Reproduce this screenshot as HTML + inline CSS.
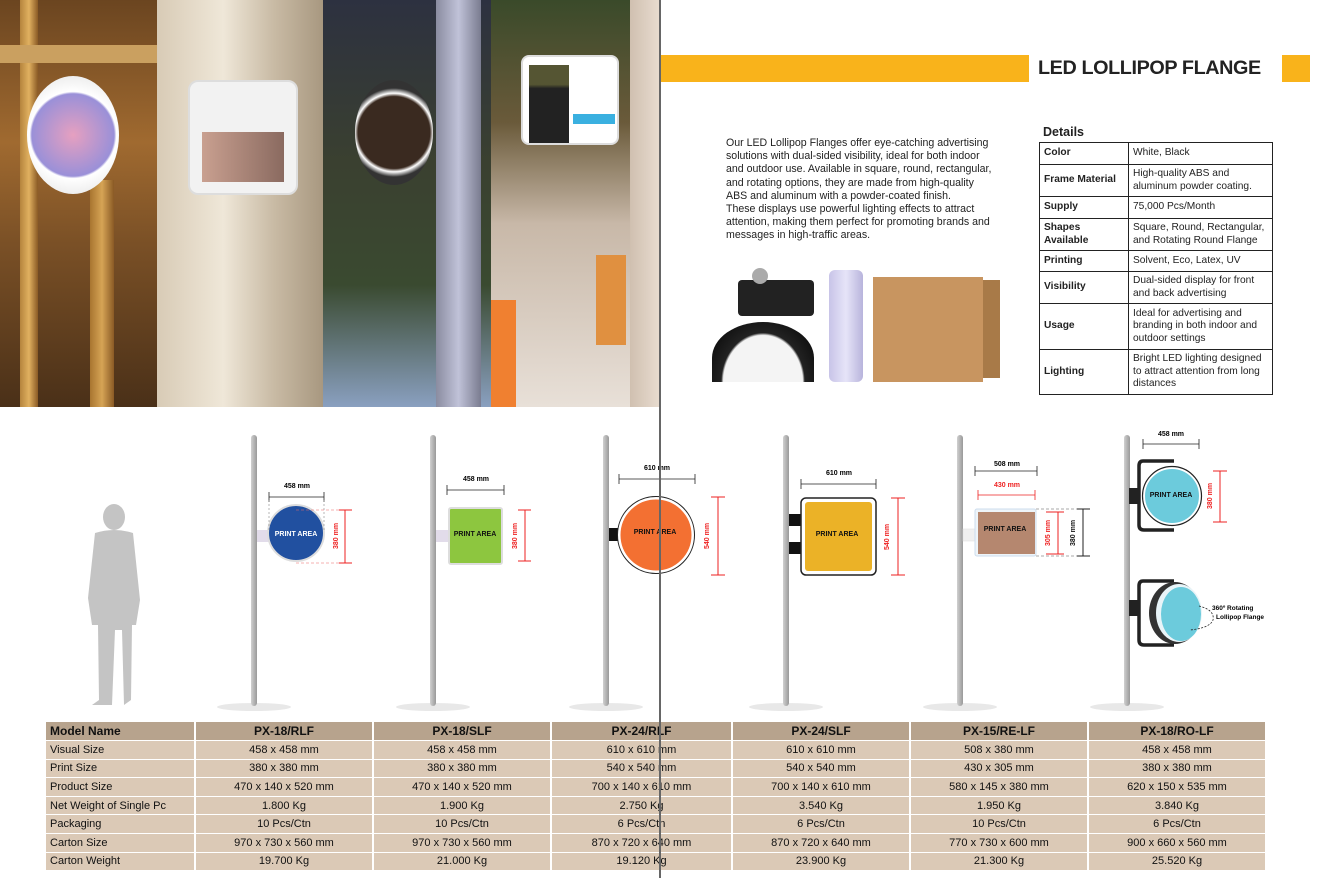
<!DOCTYPE html>
<html><head><meta charset="utf-8"><style>
*{margin:0;padding:0;box-sizing:border-box}
body{width:1317px;height:878px;background:#fff;position:relative;overflow:hidden;font-family:"Liberation Sans",sans-serif;color:#222}
.abs{position:absolute}
#desc{left:726px;top:137px;width:300px;font-size:10.6px;line-height:13.2px;color:#222;white-space:nowrap}
#det{left:1039px;top:142px;border-collapse:collapse;font-size:10.2px;width:234px}
#det td{border:1px solid #222;padding:1px 4px;line-height:12.5px;vertical-align:middle;white-space:nowrap}
#det td:first-child{font-weight:bold;width:89px}
#spec{left:46px;top:722px;border-collapse:collapse;font-family:"Liberation Sans Narrow","Liberation Sans",sans-serif;font-size:11px;table-layout:fixed}
#spec td{height:18.6px;background:#dbc9b6;border:1px solid #fff;border-width:0 2px 1px 0;text-align:center;color:#111;padding:0}
#spec tr:first-child td{background:#b7a38d;font-size:12px;font-weight:bold}
#spec td:first-child{text-align:left;padding-left:4px}
</style></head><body>

<!-- photos -->
<div class="abs" style="left:0;top:0;width:157px;height:407px;background:linear-gradient(180deg,#6b4520 0%,#a06a30 35%,#7a5026 60%,#4a3018 100%)"></div>
<div class="abs" style="left:20px;top:0;width:18px;height:407px;background:linear-gradient(90deg,#b5843d,#e0b060,#8a5a25)"></div>
<div class="abs" style="left:90px;top:180px;width:24px;height:227px;background:linear-gradient(90deg,#a87530,#d6a455,#8a5a25)"></div>
<div class="abs" style="left:0;top:45px;width:157px;height:18px;background:#caa060"></div>
<div class="abs" style="left:27px;top:76px;width:92px;height:118px;border-radius:50%;background:radial-gradient(circle,#e6a0c0,#9a90d8 55%,#fff 58%,#ddd 100%)"></div>
<div class="abs" style="left:157px;top:0;width:166px;height:407px;background:linear-gradient(90deg,#d8cbb6 0%,#efe7d8 40%,#c9bba5 70%,#a89880 100%)"></div>
<div class="abs" style="left:188px;top:80px;width:110px;height:115px;border-radius:10px;background:#f2f2f2;border:2px solid #ddd"></div>
<div class="abs" style="left:202px;top:132px;width:82px;height:50px;background:linear-gradient(90deg,#c9a090,#8a6a60)"></div>
<div class="abs" style="left:323px;top:0;width:168px;height:407px;background:linear-gradient(180deg,#2d3140 0%,#3a4030 40%,#3a4a30 70%,#8aa0c0 100%)"></div>
<div class="abs" style="left:436px;top:0;width:45px;height:407px;background:linear-gradient(90deg,#8a8ca0,#c0c2d8,#7a7c90)"></div>
<div class="abs" style="left:355px;top:80px;width:78px;height:105px;border-radius:50%;background:radial-gradient(circle,#3a2a20 55%,#fff 60%,#333 68%)"></div>
<div class="abs" style="left:491px;top:0;width:169px;height:407px;background:linear-gradient(180deg,#3a4a2a 0%,#6a5a3a 30%,#c8b8a8 55%,#e8e0d8 100%)"></div>
<div class="abs" style="left:630px;top:0;width:30px;height:407px;background:linear-gradient(90deg,#d0c0b0,#e8dcd0)"></div>
<div class="abs" style="left:491px;top:300px;width:25px;height:107px;background:#f08030"></div>
<div class="abs" style="left:596px;top:255px;width:30px;height:90px;background:#e09040"></div>
<div class="abs" style="left:521px;top:55px;width:98px;height:90px;border-radius:8px;background:#fff;border:2px solid #ddd"></div>
<div class="abs" style="left:529px;top:65px;width:40px;height:78px;background:linear-gradient(180deg,#553 0 25%,#222 30%)"></div>
<div class="abs" style="left:573px;top:114px;width:42px;height:10px;background:#3ab0e0"></div>
<div class="abs" style="left:659px;top:0;width:2px;height:878px;background:#666;z-index:5"></div>

<!-- header -->
<div class="abs" style="left:661px;top:55px;width:368px;height:27px;background:#f9b31b"></div>
<div class="abs" style="left:1282px;top:55px;width:28px;height:27px;background:#f9b31b"></div>
<div class="abs" style="left:1038px;top:57px;font-size:19.8px;font-weight:bold;letter-spacing:-0.4px;color:#222">LED LOLLIPOP FLANGE</div>

<div id="desc" class="abs">Our LED Lollipop Flanges offer eye-catching advertising<br>solutions with dual-sided visibility, ideal for both indoor<br>and outdoor use. Available in square, round, rectangular,<br>and rotating options, they are made from high-quality<br>ABS and aluminum with a powder-coated finish.<br>These displays use powerful lighting effects to attract<br>attention, making them perfect for promoting brands and<br>messages in high-traffic areas.</div>

<div class="abs" style="left:1043px;top:125px;font-size:12.5px;font-weight:bold">Details</div>
<table id="det" class="abs">
<tr style="height:22px"><td>Color</td><td>White, Black</td></tr>
<tr style="height:32px"><td>Frame Material</td><td>High-quality ABS and<br>aluminum powder coating.</td></tr>
<tr style="height:22px"><td>Supply</td><td>75,000 Pcs/Month</td></tr>
<tr style="height:32px"><td>Shapes<br>Available</td><td>Square, Round, Rectangular,<br>and Rotating Round Flange</td></tr>
<tr style="height:21px"><td>Printing</td><td>Solvent, Eco, Latex, UV</td></tr>
<tr style="height:32px"><td>Visibility</td><td>Dual-sided display for front<br>and back advertising</td></tr>
<tr style="height:46px"><td>Usage</td><td>Ideal for advertising and<br>branding in both indoor and<br>outdoor settings</td></tr>
<tr style="height:45px"><td>Lighting</td><td>Bright LED lighting designed<br>to attract attention from long<br>distances</td></tr>
</table>

<!-- product photos -->
<div class="abs" style="left:712px;top:322px;width:102px;height:60px;border-radius:50% 50% 0 0/60% 60% 0 0;background:radial-gradient(ellipse at 50% 100%,#f4f4f4 55%,#222 58%,#111 80%)"></div>
<div class="abs" style="left:738px;top:280px;width:76px;height:36px;background:#222;border-radius:4px"></div>
<div class="abs" style="left:752px;top:268px;width:16px;height:16px;background:#aaa;border-radius:50%"></div>
<div class="abs" style="left:829px;top:270px;width:34px;height:112px;background:linear-gradient(90deg,#c8c4e8,#e6e4f8,#b8b4dc);border-radius:6px"></div>
<div class="abs" style="left:873px;top:277px;width:110px;height:105px;background:#c89560"></div>
<div class="abs" style="left:983px;top:280px;width:17px;height:98px;background:#a87a48"></div>

<!-- diagrams -->
<svg class="abs" style="left:0;top:0" width="1317" height="878" font-family="Liberation Sans,sans-serif" font-weight="bold">
<defs><linearGradient id="pg" x1="0" x2="1"><stop offset="0" stop-color="#d0d0d0"/><stop offset="1" stop-color="#999"/></linearGradient></defs>
<g fill="#e8e8e8">
<ellipse cx="254" cy="707" rx="37" ry="4"/><ellipse cx="433" cy="707" rx="37" ry="4"/><ellipse cx="606" cy="707" rx="37" ry="4"/>
<ellipse cx="786" cy="707" rx="37" ry="4"/><ellipse cx="960" cy="707" rx="37" ry="4"/><ellipse cx="1127" cy="707" rx="37" ry="4"/>
</g>
<g fill="url(#pg)">
<rect x="251" y="435" width="6" height="271" rx="3"/><rect x="430" y="435" width="6" height="271" rx="3"/><rect x="603" y="435" width="6" height="271" rx="3"/>
<rect x="783" y="435" width="6" height="271" rx="3"/><rect x="957" y="435" width="6" height="271" rx="3"/><rect x="1124" y="435" width="6" height="271" rx="3"/>
</g>
<!-- person -->
<g fill="#c4c4c4">
<ellipse cx="114" cy="517" rx="11" ry="13"/>
<path d="M95 533 Q114 527 133 533 L140 600 L136 625 L132 625 L131 700 L124 705 L122 630 L115 630 L112 705 L92 705 L99 700 L98 625 L92 625 L88 598 Z"/>
</g>
<!-- D1 -->
<rect x="257" y="530" width="12" height="12" fill="#e2dcea"/>
<circle cx="296" cy="533" r="28" fill="#2150a0" stroke="#ddd" stroke-width="2"/>
<text x="296" y="536" font-size="7" fill="#fff" text-anchor="middle">PRINT AREA</text>
<g stroke="#222" stroke-width="0.8"><line x1="269" y1="497" x2="324" y2="497"/><line x1="269" y1="492" x2="269" y2="502"/><line x1="324" y1="492" x2="324" y2="502"/></g>
<g stroke="#888" stroke-dasharray="2 2" stroke-width="0.6"><line x1="269" y1="500" x2="269" y2="530"/><line x1="324" y1="500" x2="324" y2="530"/></g>
<text x="297" y="488" font-size="7" text-anchor="middle">458 mm</text>
<g stroke="#e22" stroke-width="1"><line x1="345" y1="510" x2="345" y2="563"/><line x1="339" y1="510" x2="352" y2="510"/><line x1="339" y1="563" x2="352" y2="563"/></g>
<g stroke="#e66" stroke-dasharray="3 2" stroke-width="0.6"><line x1="296" y1="510" x2="339" y2="510"/><line x1="296" y1="563" x2="339" y2="563"/></g>
<text transform="translate(338,536) rotate(-90)" font-size="7" fill="#e22" text-anchor="middle">380 mm</text>
<!-- D2 -->
<rect x="436" y="530" width="14" height="12" fill="#e2dcea"/>
<rect x="449" y="508" width="53" height="56" rx="2" fill="#8dc63f" stroke="#ddd" stroke-width="2"/>
<text x="475" y="536" font-size="7" fill="#111" text-anchor="middle">PRINT AREA</text>
<g stroke="#222" stroke-width="0.8"><line x1="447" y1="490" x2="504" y2="490"/><line x1="447" y1="485" x2="447" y2="495"/><line x1="504" y1="485" x2="504" y2="495"/></g>
<text x="476" y="481" font-size="7" text-anchor="middle">458 mm</text>
<g stroke="#e22" stroke-width="1"><line x1="525" y1="510" x2="525" y2="561"/><line x1="518" y1="510" x2="531" y2="510"/><line x1="518" y1="561" x2="531" y2="561"/></g>
<text transform="translate(517,536) rotate(-90)" font-size="7" fill="#e22" text-anchor="middle">380 mm</text>
<!-- D3 -->
<rect x="609" y="528" width="11" height="13" fill="#111"/>
<circle cx="656" cy="535" r="37" fill="#f37032" stroke="#fff" stroke-width="3"/>
<circle cx="656" cy="535" r="38.5" fill="none" stroke="#222" stroke-width="1"/>
<text x="655" y="534" font-size="7" fill="#111" text-anchor="middle">PRINT AREA</text>
<g stroke="#222" stroke-width="0.8"><line x1="619" y1="479" x2="695" y2="479"/><line x1="619" y1="474" x2="619" y2="484"/><line x1="695" y1="474" x2="695" y2="484"/></g>
<text x="657" y="470" font-size="7" text-anchor="middle">610 mm</text>
<g stroke="#e22" stroke-width="1"><line x1="718" y1="497" x2="718" y2="575"/><line x1="711" y1="497" x2="725" y2="497"/><line x1="711" y1="575" x2="725" y2="575"/></g>
<text transform="translate(709,536) rotate(-90)" font-size="7" fill="#e22" text-anchor="middle">540 mm</text>
<!-- D4 -->
<rect x="789" y="514" width="12" height="12" fill="#111"/><rect x="789" y="542" width="12" height="12" fill="#111"/>
<rect x="801" y="498" width="75" height="77" rx="5" fill="#fff" stroke="#222" stroke-width="1.5"/>
<rect x="805" y="502" width="67" height="69" rx="3" fill="#ebb227"/>
<text x="837" y="536" font-size="7" fill="#111" text-anchor="middle">PRINT AREA</text>
<g stroke="#222" stroke-width="0.8"><line x1="801" y1="484" x2="876" y2="484"/><line x1="801" y1="479" x2="801" y2="489"/><line x1="876" y1="479" x2="876" y2="489"/></g>
<text x="839" y="475" font-size="7" text-anchor="middle">610 mm</text>
<g stroke="#e22" stroke-width="1"><line x1="898" y1="498" x2="898" y2="575"/><line x1="891" y1="498" x2="905" y2="498"/><line x1="891" y1="575" x2="905" y2="575"/></g>
<text transform="translate(889,537) rotate(-90)" font-size="7" fill="#e22" text-anchor="middle">540 mm</text>
<!-- D5 -->
<rect x="963" y="529" width="13" height="12" fill="#f0f0f0" stroke="#ddd" stroke-width="0.5"/>
<rect x="975" y="509" width="61" height="47" rx="2" fill="#eef4f8" stroke="#cde" stroke-width="1"/>
<rect x="978" y="512" width="57" height="42" fill="#b5876f"/>
<text x="1005" y="531" font-size="7" fill="#111" text-anchor="middle">PRINT AREA</text>
<g stroke="#222" stroke-width="0.8"><line x1="975" y1="471" x2="1037" y2="471"/><line x1="975" y1="466" x2="975" y2="476"/><line x1="1037" y1="466" x2="1037" y2="476"/></g>
<text x="1007" y="466" font-size="7" text-anchor="middle">508 mm</text>
<g stroke="#e22" stroke-width="0.8"><line x1="978" y1="495" x2="1035" y2="495"/><line x1="978" y1="490" x2="978" y2="500"/><line x1="1035" y1="490" x2="1035" y2="500"/></g>
<text x="1007" y="487" font-size="7" fill="#e22" text-anchor="middle">430 mm</text>
<g stroke="#e22" stroke-width="1"><line x1="1058" y1="512" x2="1058" y2="554"/><line x1="1046" y1="512" x2="1064" y2="512"/><line x1="1046" y1="554" x2="1064" y2="554"/></g>
<text transform="translate(1050,533) rotate(-90)" font-size="7" fill="#e22" text-anchor="middle">305 mm</text>
<g stroke="#222" stroke-width="1"><line x1="1083" y1="509" x2="1083" y2="556"/><line x1="1077" y1="509" x2="1090" y2="509"/><line x1="1077" y1="556" x2="1090" y2="556"/></g>
<g stroke="#555" stroke-dasharray="3 2" stroke-width="0.6"><line x1="1036" y1="509" x2="1077" y2="509"/><line x1="1036" y1="556" x2="1077" y2="556"/></g>
<text transform="translate(1075,533) rotate(-90)" font-size="7" fill="#111" text-anchor="middle">380 mm</text>
<!-- D6 -->
<rect x="1129" y="488" width="10" height="16" fill="#222"/>
<path d="M1174 461 L1143 461 Q1139 461 1139 466 L1139 525 Q1139 530 1144 530 L1174 530" fill="none" stroke="#222" stroke-width="3.5"/>
<circle cx="1172" cy="496" r="28" fill="#6ccbdc" stroke="#fff" stroke-width="2"/>
<circle cx="1172" cy="496" r="29.5" fill="none" stroke="#222" stroke-width="1.2"/>
<text x="1171" y="497" font-size="7" fill="#111" text-anchor="middle">PRINT AREA</text>
<g stroke="#222" stroke-width="0.8"><line x1="1143" y1="444" x2="1199" y2="444"/><line x1="1143" y1="439" x2="1143" y2="449"/><line x1="1199" y1="439" x2="1199" y2="449"/></g>
<text x="1171" y="436" font-size="7" text-anchor="middle">458 mm</text>
<g stroke="#e22" stroke-width="1"><line x1="1220" y1="471" x2="1220" y2="522"/><line x1="1213" y1="471" x2="1227" y2="471"/><line x1="1213" y1="522" x2="1227" y2="522"/></g>
<text transform="translate(1212,496) rotate(-90)" font-size="7" fill="#e22" text-anchor="middle">380 mm</text>
<rect x="1129" y="600" width="10" height="16" fill="#222"/>
<path d="M1174 581 L1143 581 Q1139 581 1139 586 L1139 640 Q1139 645 1144 645 L1174 645" fill="none" stroke="#222" stroke-width="3.5"/>
<ellipse cx="1175" cy="613" rx="26" ry="31" fill="#333"/>
<ellipse cx="1179" cy="613" rx="23" ry="29" fill="#e8f4f8"/>
<ellipse cx="1181" cy="614" rx="20" ry="27" fill="#6ccbdc"/>
<path d="M1199 606 Q1215 610 1213 620 Q1210 628 1190 630" fill="none" stroke="#222" stroke-width="0.8" stroke-dasharray="2 1.5"/>
<text x="1212" y="610" font-size="6.5">360º Rotating</text>
<text x="1216" y="619" font-size="6.5">Lollipop Flange</text>
</svg>

<table id="spec" class="abs">
<colgroup><col style="width:149px"><col style="width:178px"><col style="width:178px"><col style="width:181px"><col style="width:178px"><col style="width:178px"><col style="width:178px"></colgroup>
<tr><td>Model Name</td><td>PX-18/RLF</td><td>PX-18/SLF</td><td>PX-24/RLF</td><td>PX-24/SLF</td><td>PX-15/RE-LF</td><td>PX-18/RO-LF</td></tr>
<tr><td>Visual Size</td><td>458 x 458 mm</td><td>458 x 458 mm</td><td>610 x 610 mm</td><td>610 x 610 mm</td><td>508 x 380 mm</td><td>458 x 458 mm</td></tr>
<tr><td>Print Size</td><td>380 x 380 mm</td><td>380 x 380 mm</td><td>540 x 540 mm</td><td>540 x 540 mm</td><td>430 x 305 mm</td><td>380 x 380 mm</td></tr>
<tr><td>Product Size</td><td>470 x 140 x 520 mm</td><td>470 x 140 x 520 mm</td><td>700 x 140 x 610 mm</td><td>700 x 140 x 610 mm</td><td>580 x 145 x 380 mm</td><td>620 x 150 x 535 mm</td></tr>
<tr><td>Net Weight of Single Pc</td><td>1.800 Kg</td><td>1.900 Kg</td><td>2.750 Kg</td><td>3.540 Kg</td><td>1.950 Kg</td><td>3.840 Kg</td></tr>
<tr><td>Packaging</td><td>10 Pcs/Ctn</td><td>10 Pcs/Ctn</td><td>6 Pcs/Ctn</td><td>6 Pcs/Ctn</td><td>10 Pcs/Ctn</td><td>6 Pcs/Ctn</td></tr>
<tr><td>Carton Size</td><td>970 x 730 x 560 mm</td><td>970 x 730 x 560 mm</td><td>870 x 720 x 640 mm</td><td>870 x 720 x 640 mm</td><td>770 x 730 x 600 mm</td><td>900 x 660 x 560 mm</td></tr>
<tr><td>Carton Weight</td><td>19.700 Kg</td><td>21.000 Kg</td><td>19.120 Kg</td><td>23.900 Kg</td><td>21.300 Kg</td><td>25.520 Kg</td></tr>
</table>
</body></html>
